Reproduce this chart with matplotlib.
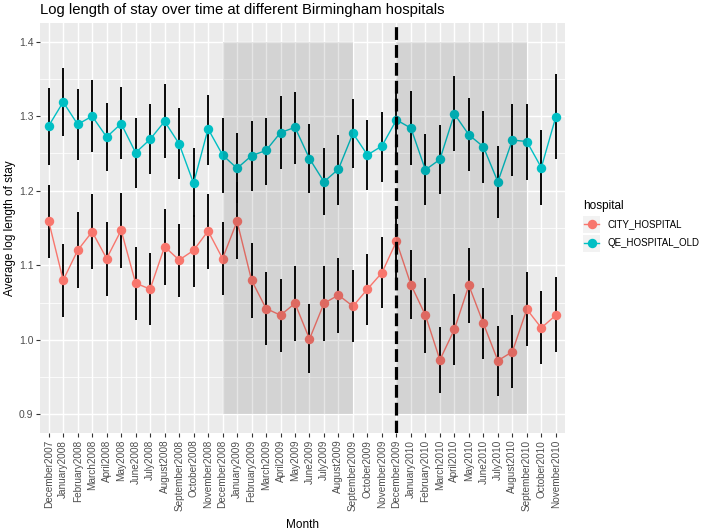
import matplotlib
matplotlib.use("Agg")
import matplotlib.pyplot as plt
from matplotlib.patches import Rectangle
from matplotlib.lines import Line2D
import numpy as np

plt.rcParams['font.family'] = ['Liberation Sans', 'DejaVu Sans']

months = ["December2007", "January2008", "February2008", "March2008", "April2008", "May2008",
          "June2008", "July2008", "August2008", "September2008", "October2008", "November2008",
          "December2008", "January2009", "February2009", "March2009", "April2009", "May2009",
          "June2009", "July2009", "August2009", "September2009", "October2009", "November2009",
          "December2009", "January2010", "February2010", "March2010", "April2010", "May2010",
          "June2010", "July2010", "August2010", "September2010", "October2010", "November2010"]

city_mean = [1.159, 1.080, 1.120, 1.145, 1.109, 1.147, 1.076, 1.068, 1.125, 1.107, 1.120, 1.146,
             1.109, 1.159, 1.080, 1.042, 1.033, 1.049, 1.001, 1.049, 1.060, 1.045, 1.068, 1.090,
             1.132, 1.074, 1.033, 0.973, 1.014, 1.073, 1.022, 0.972, 0.984, 1.041, 1.016, 1.033]
city_lo = [1.110, 1.031, 1.070, 1.095, 1.059, 1.097, 1.026, 1.020, 1.073, 1.058, 1.071, 1.095,
           1.060, 1.108, 1.029, 0.993, 0.983, 0.998, 0.955, 0.998, 1.009, 0.997, 1.020, 1.043,
           1.083, 1.028, 0.982, 0.928, 0.966, 1.022, 0.974, 0.925, 0.935, 0.992, 0.967, 0.983]
city_hi = [1.208, 1.129, 1.171, 1.195, 1.158, 1.197, 1.125, 1.117, 1.176, 1.156, 1.168, 1.196,
           1.158, 1.212, 1.130, 1.091, 1.082, 1.099, 1.048, 1.099, 1.110, 1.093, 1.115, 1.138,
           1.180, 1.121, 1.083, 1.017, 1.062, 1.123, 1.070, 1.019, 1.033, 1.091, 1.065, 1.084]

qe_mean = [1.287, 1.319, 1.289, 1.300, 1.272, 1.290, 1.251, 1.269, 1.293, 1.263, 1.210, 1.283,
           1.248, 1.230, 1.247, 1.254, 1.278, 1.285, 1.243, 1.212, 1.229, 1.277, 1.248, 1.260,
           1.295, 1.284, 1.228, 1.242, 1.303, 1.275, 1.259, 1.212, 1.268, 1.266, 1.231, 1.299]
qe_lo = [1.235, 1.273, 1.241, 1.252, 1.226, 1.242, 1.204, 1.223, 1.244, 1.216, 1.165, 1.235,
         1.197, 1.184, 1.200, 1.208, 1.229, 1.236, 1.197, 1.167, 1.181, 1.230, 1.201, 1.212,
         1.246, 1.235, 1.181, 1.196, 1.253, 1.226, 1.210, 1.164, 1.220, 1.215, 1.181, 1.242]
qe_hi = [1.338, 1.365, 1.336, 1.348, 1.318, 1.339, 1.298, 1.316, 1.343, 1.311, 1.257, 1.329,
         1.298, 1.277, 1.294, 1.298, 1.327, 1.333, 1.289, 1.257, 1.275, 1.323, 1.295, 1.306,
         1.344, 1.334, 1.276, 1.288, 1.354, 1.324, 1.307, 1.260, 1.317, 1.316, 1.282, 1.356]

hospitals = ["CITY_HOSPITAL", "QE_HOSPITAL_OLD"]
colors = ["#F8766D", "#00BFC4"]

shade_start = ["December2008", "December2009"]
shade_end = ["September2009", "September2010"]
shade_ymin, shade_ymax = 0.9, 1.4
vline_month = "December2009"

yticks = [0.9, 1.0, 1.1, 1.2, 1.3, 1.4]

W, H = 709, 532
fig = plt.figure(figsize=(W / 100, H / 100), dpi=100)
left, right, top, bottom = 40, 564.5, 23, 433
ax = fig.add_axes([left / W, 1 - bottom / H, (right - left) / W, (bottom - top) / H])

x = np.arange(len(months))
idx = {m: i for i, m in enumerate(months)}

ax.set_facecolor("#EBEBEB")
for s in ax.spines.values():
    s.set_visible(False)
ax.set_xlim(-0.6, len(months) - 1 + 0.6)
ax.set_ylim(0.875, 1.425)

# grid
for yv in np.arange(0.95, 1.40, 0.1):
    ax.axhline(yv, color="white", lw=0.55, zorder=0.5)
for yv in yticks:
    ax.axhline(yv, color="white", lw=1.05, zorder=0.6)
for xv in x:
    ax.axvline(xv, color="white", lw=1.05, zorder=0.6)

series = [(city_mean, city_lo, city_hi), (qe_mean, qe_lo, qe_hi)]
for (m, lo, hi), c in zip(series, colors):
    ax.vlines(x, lo, hi, color="black", lw=1.35, zorder=2)
    ax.plot(x, m, color=c, lw=1.0, zorder=3)
    ax.plot(x, m, 'o', color=c, ms=6.8, mec='none', zorder=4)

for s0, s1 in zip(shade_start, shade_end):
    ax.add_patch(Rectangle((idx[s0], shade_ymin), idx[s1] - idx[s0], shade_ymax - shade_ymin,
                           facecolor="black", alpha=0.1, edgecolor="none", zorder=5))

ax.axvline(idx[vline_month], color="black", lw=2.3, dashes=(4, 1.6), zorder=6)

ax.set_xticks(x)
ax.set_xticklabels(months, rotation=90, fontsize=7.2, color="#4D4D4D")
ax.set_yticks(yticks)
ax.set_yticklabels([f"{v:.1f}" for v in yticks], fontsize=7.5, color="#4D4D4D")
ax.tick_params(axis="both", length=2.8, width=0.8, color="#333333", pad=2)
ax.set_xlabel("Month", fontsize=8.5, labelpad=6)
ax.set_ylabel("Average log length of stay", fontsize=8.5, labelpad=2)

fig.text(left / W, 1 - 10 / H, "Log length of stay over time at different Birmingham hospitals",
         fontsize=10.7, ha="left", va="center")

# legend
fig.text(583 / W, 1 - 206 / H, "hospital", fontsize=8.5, ha="left", va="center")
rows = [224, 243]
for r, c, name in zip(rows, colors, hospitals):
    kx0, ky0 = 583, r - 8.5
    fig.patches.append(Rectangle((kx0 / W, 1 - (ky0 + 17) / H), 17 / W, 17 / H,
                                 transform=fig.transFigure, facecolor="#F2F2F2",
                                 edgecolor="none"))
    fig.lines.append(Line2D([(kx0 + 1) / W, (kx0 + 16) / W], [1 - r / H, 1 - r / H],
                            transform=fig.transFigure, color=c, lw=1.0))
    fig.lines.append(Line2D([(kx0 + 8.5) / W], [1 - r / H], transform=fig.transFigure,
                            color=c, marker='o', ms=6.8, mec='none'))
    fig.text(608 / W, 1 - r / H, name, fontsize=7, ha="left", va="center")

fig.savefig("out.png", dpi=100)
